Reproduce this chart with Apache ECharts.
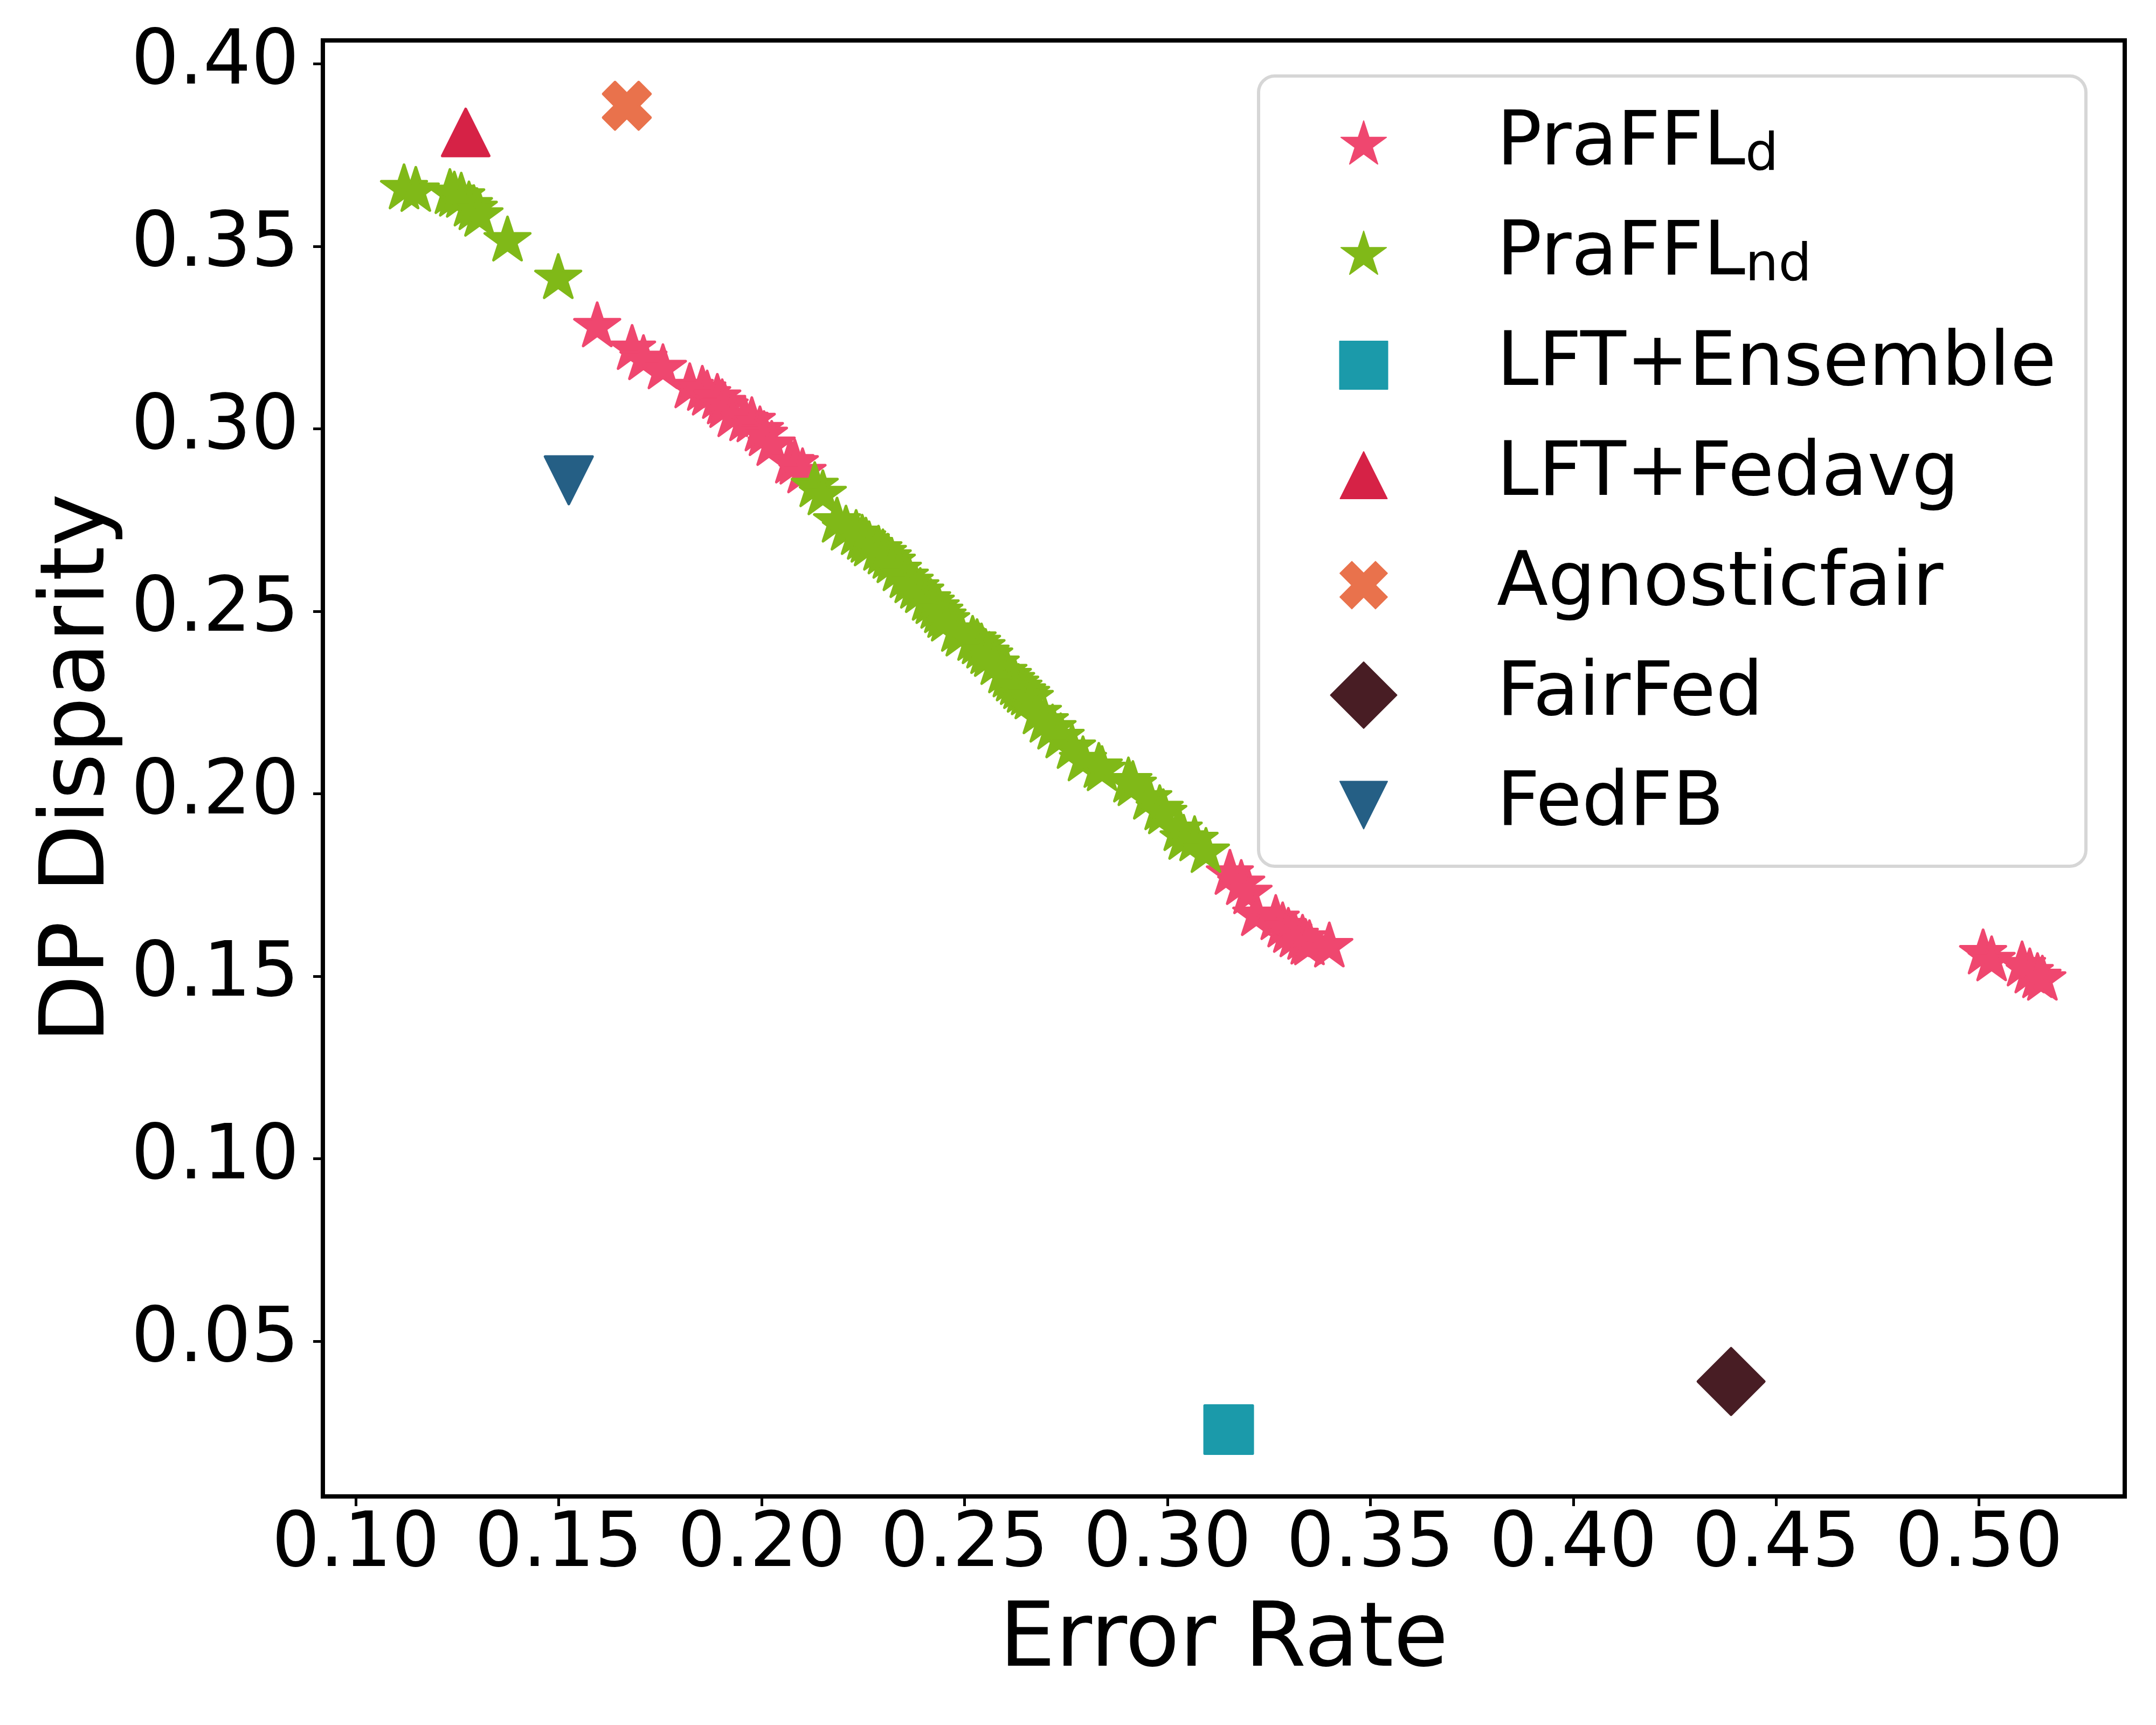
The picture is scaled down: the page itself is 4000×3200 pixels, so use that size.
<!DOCTYPE html>
<html>
<head>
<meta charset="utf-8">
<script src="https://cdn.jsdelivr.net/npm/echarts@6/dist/echarts.min.js"></script>
<style>
html,body{margin:0;padding:0;background:#fff;}
#chart{width:4000px;height:3200px;}
</style>
</head>
<body>
<div id="chart"></div>
<script>
// ---------------- data ----------------
const xTicks = [0.10, 0.15, 0.20, 0.25, 0.30, 0.35, 0.40, 0.45, 0.50];
const yTicks = [0.05, 0.10, 0.15, 0.20, 0.25, 0.30, 0.35, 0.40];

const seriesNames = ['PraFFL_d', 'PraFFL_nd', 'LFT+Ensemble', 'LFT+Fedavg', 'Agnosticfair', 'FairFed', 'FedFB'];

const prafflD = [
  [0.1595,0.3280],[0.1681,0.3218],[0.1709,0.3190],[0.1757,0.3165],[0.1823,0.3113],
  [0.1854,0.3106],[0.1866,0.3093],[0.1891,0.3084],[0.1903,0.3069],[0.1909,0.3059],
  [0.1929,0.3034],[0.1958,0.3023],[0.1976,0.3020],[0.1996,0.2995],[0.2006,0.2982],
  [0.2025,0.2955],[0.2071,0.2907],[0.2082,0.2904],[0.2101,0.2880],
  [0.3154,0.1780],[0.3182,0.1752],[0.3200,0.1727],[0.3219,0.1667],[0.3267,0.1656],
  [0.3284,0.1636],[0.3298,0.1621],[0.3314,0.1609],[0.3333,0.1602],[0.3341,0.1589],
  [0.3350,0.1587],[0.3399,0.1581],
  [0.5010,0.1562],[0.5031,0.1543],[0.5106,0.1529],[0.5125,0.1510],[0.5144,0.1497],[0.5156,0.1490]
];

const prafflND = [
  [0.1119,0.3658],[0.1148,0.3651],[0.1232,0.3645],[0.1243,0.3638],[0.1260,0.3635],
  [0.1279,0.3611],[0.1291,0.3601],[0.1305,0.3583],[0.1374,0.3515],[0.1499,0.3412],
  [0.2131,0.2842],[0.2151,0.2820],[0.2186,0.2745],[0.2208,0.2723],[0.2233,0.2711],
  [0.2248,0.2698],[0.2257,0.2690],[0.2265,0.2680],[0.2288,0.2668],[0.2299,0.2658],
  [0.2311,0.2646],[0.2321,0.2634],[0.2336,0.2612],[0.2353,0.2593],[0.2365,0.2579],
  [0.2379,0.2564],[0.2391,0.2552],[0.2408,0.2531],[0.2417,0.2522],[0.2429,0.2509],
  [0.2438,0.2497],[0.2446,0.2484],[0.2455,0.2474],[0.2480,0.2446],[0.2491,0.2433],
  [0.2520,0.2421],[0.2531,0.2412],[0.2542,0.2400],[0.2552,0.2385],[0.2561,0.2377],
  [0.2577,0.2355],[0.2596,0.2332],[0.2607,0.2321],[0.2615,0.2310],[0.2625,0.2300],
  [0.2633,0.2289],[0.2642,0.2279],[0.2652,0.2272],[0.2661,0.2261],[0.2681,0.2220],
  [0.2698,0.2197],[0.2717,0.2178],[0.2737,0.2154],[0.2765,0.2125],[0.2792,0.2091],
  [0.2831,0.2073],[0.2839,0.2064],[0.2904,0.2033],[0.2915,0.2023],[0.2953,0.1986],
  [0.2981,0.1957],[0.2990,0.1946],[0.3028,0.1900],[0.3040,0.1876],[0.3067,0.1872],
  [0.3095,0.1840]
];

const lftEnsemble = [[0.3151, 0.0258]];
const lftFedavg   = [[0.1271, 0.3812]];
const agnosticfair = [[0.1668, 0.3885]];
const fairFed     = [[0.4389, 0.0390]];
const fedFB       = [[0.1525, 0.2859]];

const colors = ['#EF476F', '#80B918', '#1B9AAA', '#D62246', '#E9724C', '#481D24', '#255F85'];

// ---------------- marker shapes (symbol geometry only) ----------------
function toPath(pts) {
  return 'path://M-64 -64M64 64M' + pts.map(p => p[0].toFixed(2) + ' ' + p[1].toFixed(2)).join('L') + 'Z';
}
function starPts(R) {
  const pts = []; const r = R * 0.381966;
  for (let i = 0; i < 10; i++) {
    const a = -Math.PI / 2 + i * Math.PI / 5;
    const rad = i % 2 === 0 ? R : r;
    pts.push([rad * Math.cos(a), rad * Math.sin(a)]);
  }
  return pts;
}
function xPts(k) {
  const base = [[-1,-3],[1,-3],[1,-1],[3,-1],[3,1],[1,1],[1,3],[-1,3],[-1,1],[-3,1],[-3,-1],[-1,-1]];
  const c = Math.SQRT1_2;
  return base.map(p => {
    const x = p[0] / 6, y = p[1] / 6;
    return [(x * c - y * c) * k, (x * c + y * c) * k];
  });
}
const SYM = {
  star: toPath(starPts(44.3)),
  square: toPath([[-44.5,-44.5],[44.5,-44.5],[44.5,44.5],[-44.5,44.5]]),
  triUp: toPath([[0,-43.5],[43.5,43.5],[-43.5,43.5]]),
  cross: toPath(xPts(93)),
  diamond: toPath([[0,-61.5],[61.5,0],[0,61.5],[-61.5,0]]),
  triDown: toPath([[-44,-44],[44,-44],[0,44]])
};
const symbols = [SYM.star, SYM.star, SYM.square, SYM.triUp, SYM.cross, SYM.diamond, SYM.triDown];
const datasets = [prafflD, prafflND, lftEnsemble, lftFedavg, agnosticfair, fairFed, fedFB];

const FONT = 'DejaVu Sans';

const series = seriesNames.map((name, i) => ({
  name: name,
  type: 'scatter',
  data: datasets[i],
  symbol: symbols[i],
  symbolSize: 128,
  itemStyle: { color: colors[i], borderColor: colors[i], borderWidth: 5, borderJoin: 'round', opacity: 1 },
  emphasis: { disabled: true },
  z: 2 + i
}));

const chart = echarts.init(document.getElementById('chart'), null, { renderer: 'canvas' });
chart.setOption({
  animation: false,
  backgroundColor: '#ffffff',
  grid: {
    left: 599, right: 58, top: 75, bottom: 424,
    show: true, borderColor: '#000', borderWidth: 8, backgroundColor: 'transparent'
  },
  xAxis: {
    type: 'value', min: 0.0919, max: 0.5359,
    name: 'Error Rate', nameLocation: 'middle', nameGap: 189,
    nameTextStyle: { fontFamily: FONT, fontSize: 165, color: '#000' },
    axisLine: { show: false },
    splitLine: { show: false },
    axisTick: { show: true, inside: false, length: 18, lineStyle: { color: '#000', width: 5 }, customValues: xTicks },
    axisLabel: { fontFamily: FONT, fontSize: 140, color: '#000', margin: 23, customValues: xTicks,
      formatter: v => v.toFixed(2) }
  },
  yAxis: {
    type: 'value', min: 0.0075, max: 0.4064,
    name: 'DP Disparity', nameLocation: 'middle', nameGap: 367, nameRotate: 90,
    nameTextStyle: { fontFamily: FONT, fontSize: 165, color: '#000' },
    axisLine: { show: false },
    splitLine: { show: false },
    axisTick: { show: true, inside: false, length: 18, lineStyle: { color: '#000', width: 5 }, customValues: yTicks },
    axisLabel: { fontFamily: FONT, fontSize: 140, color: '#000', margin: 44, customValues: yTicks,
      formatter: v => v.toFixed(2) }
  },
  legend: {
    orient: 'vertical',
    left: 2335, top: 141,
    padding: [58, 55, 44, 130],
    itemGap: 65,
    itemWidth: 128, itemHeight: 128,
    borderColor: '#d6d6d6', borderWidth: 6, borderRadius: 30,
    backgroundColor: 'rgba(255,255,255,0.8)',
    selectedMode: false,
    data: seriesNames.map((n, i) => ({ name: n, icon: symbols[i] })),
    formatter: function (name) {
      if (name === 'PraFFL_d') return '{m|PraFFL}{s|d}';
      if (name === 'PraFFL_nd') return '{m|PraFFL}{s|nd}';
      return '{m|' + name + '}';
    },
    textStyle: {
      padding: [0, 0, 0, 178],
      fontFamily: FONT, fontSize: 139, color: '#000',
      rich: {
        m: { fontFamily: FONT, fontSize: 139, lineHeight: 140, color: '#000' },
        s: { fontFamily: FONT, fontSize: 97, lineHeight: 73, verticalAlign: 'bottom', color: '#000' }
      }
    }
  },
  series: series
});
</script>
</body>
</html>
